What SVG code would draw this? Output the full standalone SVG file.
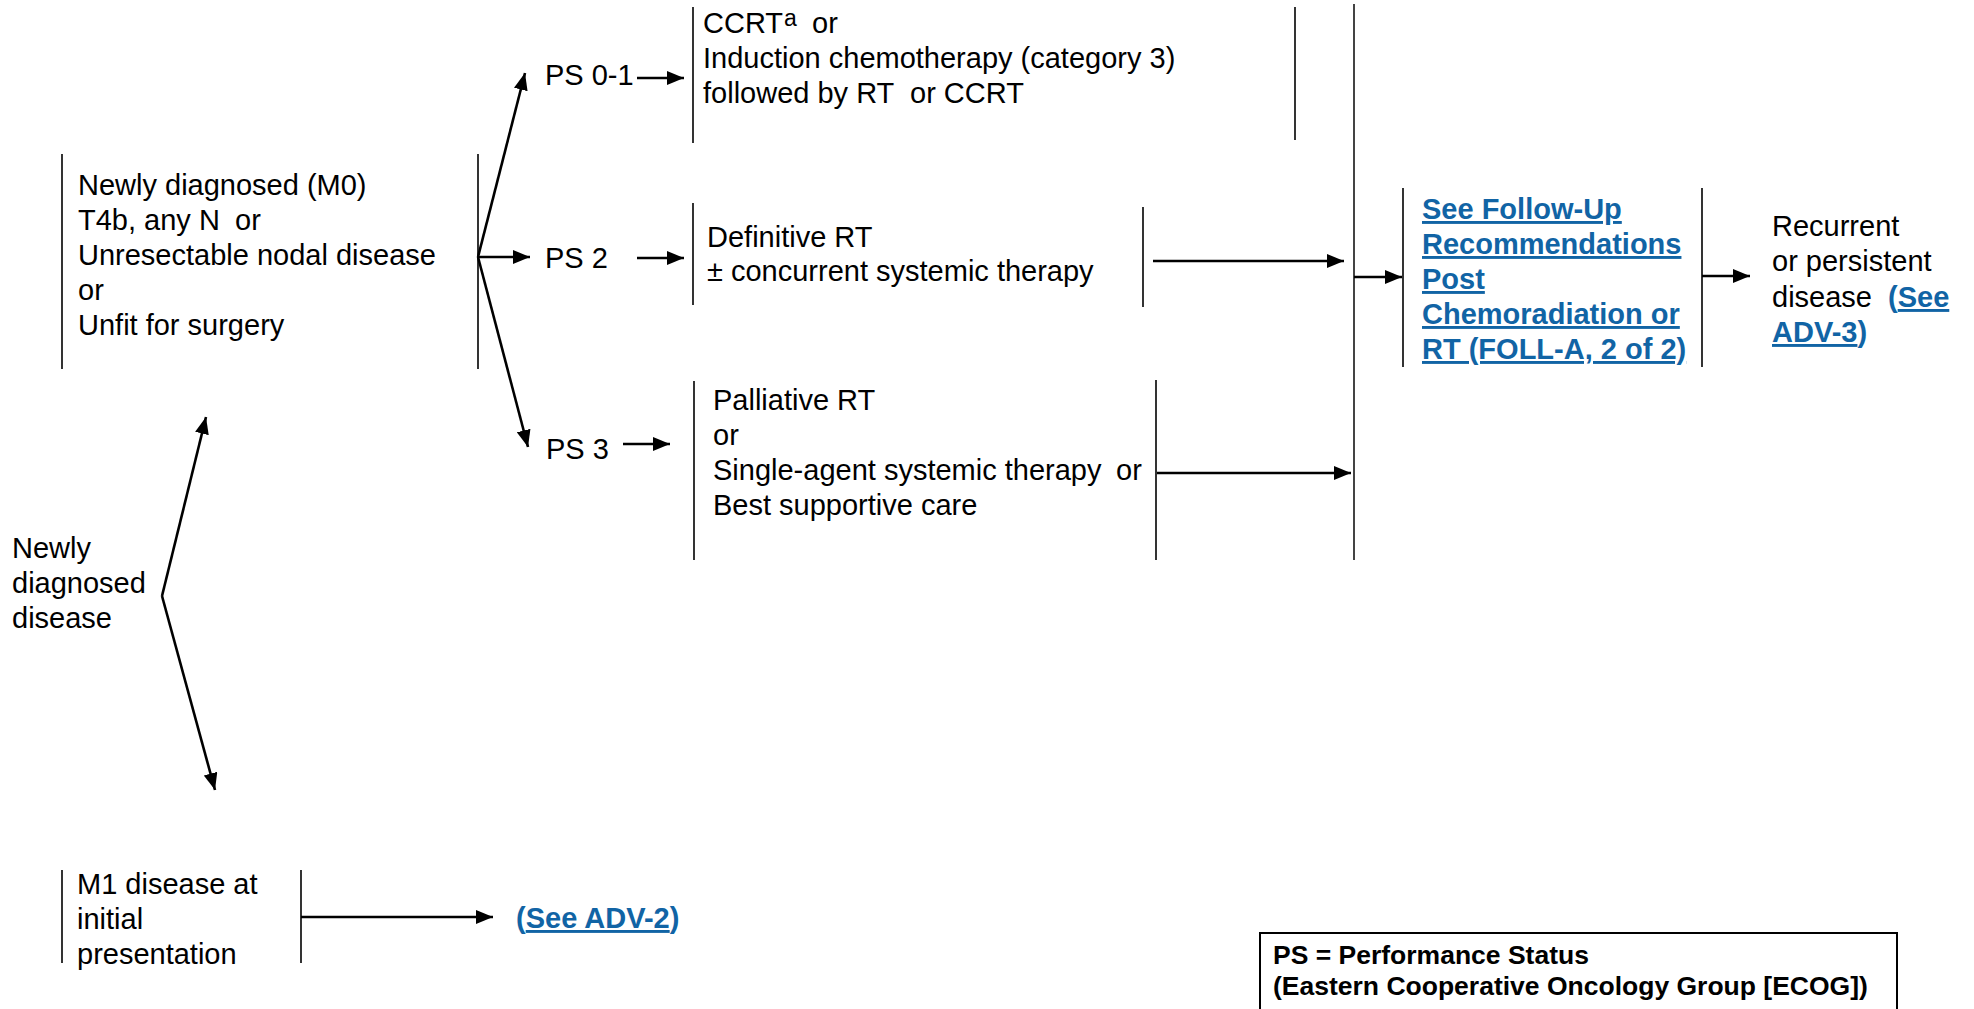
<svg xmlns="http://www.w3.org/2000/svg" width="1974" height="1009" viewBox="0 0 1974 1009">
<style>
  text { font-family: "Liberation Sans", Arial, sans-serif; font-size: 29px; fill: #000; }
  .b { font-weight: bold; }
  .link { fill: #1164a5; font-weight: bold; }
  .u { text-decoration: underline; }
  .br { stroke: #000; stroke-width: 1.6; fill: none; }
  .arr { stroke: #000; stroke-width: 2.6; fill: none; marker-end: url(#ah); }
  .leg { font-size: 26.5px; font-weight: bold; }
</style>
<defs>
  <marker id="ah" markerUnits="userSpaceOnUse" markerWidth="18" markerHeight="14" refX="17" refY="7" orient="auto">
    <path d="M0,0 L17,7 L0,14 z" fill="#000"/>
  </marker>
</defs>
<rect width="1974" height="1009" fill="#fff"/>

<g id="node-m0">
  <line class="br" x1="62" y1="154" x2="62" y2="369"/>
  <line class="br" x1="478" y1="154" x2="478" y2="369"/>
  <text x="78" y="195">Newly diagnosed (M0)</text>
  <text x="78" y="230">T4b, any N<tspan x="235">or</tspan></text>
  <text x="78" y="265">Unresectable nodal disease</text>
  <text x="78" y="300">or</text>
  <text x="78" y="335">Unfit for surgery</text>
</g>

<g id="node-newly">
  <text x="12" y="558">Newly</text>
  <text x="12" y="593">diagnosed</text>
  <text x="12" y="628">disease</text>
</g>

<g id="node-m1">
  <line class="br" x1="62" y1="870" x2="62" y2="963"/>
  <line class="br" x1="301" y1="870" x2="301" y2="963"/>
  <text x="77" y="894">M1 disease at</text>
  <text x="77" y="929">initial</text>
  <text x="77" y="964">presentation</text>
</g>

<g id="node-adv2">
  <text x="516" y="928" class="link">(<tspan class="u">See ADV-2</tspan>)</text>
</g>

<g id="node-ps01">
  <text x="545" y="85">PS 0-1</text>
</g>
<g id="node-ps2">
  <text x="545" y="268">PS 2</text>
</g>
<g id="node-ps3">
  <text x="546" y="459">PS 3</text>
</g>

<g id="node-ccrt">
  <line class="br" x1="693" y1="7" x2="693" y2="143"/>
  <line class="br" x1="1295" y1="7" x2="1295" y2="140"/>
  <text x="703" y="33">CCRT<tspan font-size="23" dx="1" dy="-7">a</tspan><tspan x="812" dy="7">or</tspan></text>
  <text x="703" y="68">Induction chemotherapy (category 3)</text>
  <text x="703" y="103">followed by RT<tspan x="910">or CCRT</tspan></text>
</g>

<g id="node-defrt">
  <line class="br" x1="693" y1="203" x2="693" y2="305"/>
  <line class="br" x1="1143" y1="207" x2="1143" y2="307"/>
  <text x="707" y="247">Definitive RT</text>
  <text x="707" y="281">± concurrent systemic therapy</text>
</g>

<g id="node-palliative">
  <line class="br" x1="694" y1="381" x2="694" y2="560"/>
  <line class="br" x1="1156" y1="380" x2="1156" y2="560"/>
  <text x="713" y="410">Palliative RT</text>
  <text x="713" y="445">or</text>
  <text x="713" y="480">Single-agent systemic therapy<tspan x="1116">or</tspan></text>
  <text x="713" y="515">Best supportive care</text>
</g>

<g id="node-followup">
  <line class="br" x1="1403" y1="188" x2="1403" y2="367"/>
  <line class="br" x1="1702" y1="188" x2="1702" y2="367"/>
  <text x="1422" y="219" class="link u">See Follow-Up</text>
  <text x="1422" y="254" class="link u">Recommendations</text>
  <text x="1422" y="289" class="link u">Post</text>
  <text x="1422" y="324" class="link u">Chemoradiation or</text>
  <text x="1422" y="359" class="link u">RT (FOLL-A, 2 of 2)</text>
</g>

<g id="node-recurrent">
  <text x="1772" y="236">Recurrent</text>
  <text x="1772" y="271">or persistent</text>
  <text x="1772" y="307">disease<tspan x="1888" class="link">(<tspan class="u">See</tspan></tspan></text>
  <text x="1772" y="342" class="link"><tspan class="u">ADV-3</tspan>)</text>
</g>

<g id="node-legend">
  <rect x="1260" y="933" width="637" height="90" fill="none" stroke="#000" stroke-width="2"/>
  <text x="1273" y="964" class="leg">PS = Performance Status</text>
  <text x="1273" y="995" class="leg">(Eastern Cooperative Oncology Group [ECOG])</text>
</g>

<g id="connectors">
  <line x1="1354" y1="4" x2="1354" y2="560" stroke="#444" stroke-width="2"/>
  <line class="arr" x1="162" y1="596" x2="206" y2="417"/>
  <line class="arr" x1="162" y1="596" x2="215" y2="790"/>
  <line class="arr" x1="478" y1="257" x2="525" y2="73"/>
  <line class="arr" x1="478" y1="257" x2="530" y2="257"/>
  <line class="arr" x1="478" y1="257" x2="528" y2="447"/>
  <line class="arr" x1="637" y1="78" x2="684" y2="78"/>
  <line class="arr" x1="637" y1="258" x2="684" y2="258"/>
  <line class="arr" x1="623" y1="444" x2="670" y2="444"/>
  <line class="arr" x1="1153" y1="261" x2="1344" y2="261"/>
  <line class="arr" x1="1157" y1="473" x2="1351" y2="473"/>
  <line class="arr" x1="1354" y1="277" x2="1402" y2="277"/>
  <line class="arr" x1="1702" y1="276" x2="1750" y2="276"/>
  <line class="arr" x1="301" y1="917" x2="493" y2="917"/>
</g>
</svg>
